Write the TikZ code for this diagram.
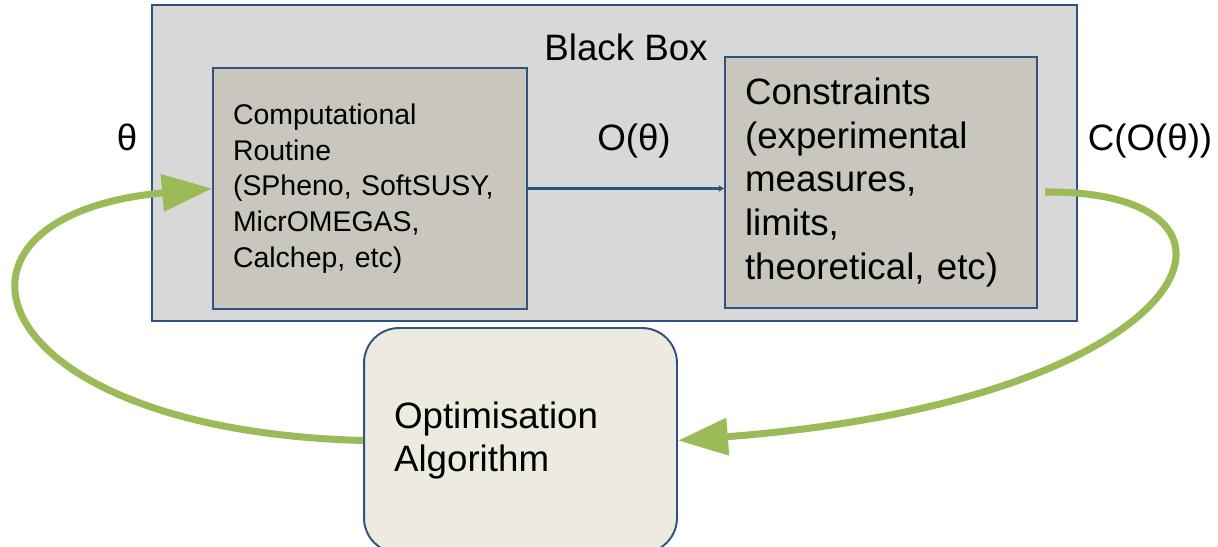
\documentclass[tikz,border=0pt]{standalone}
\usepackage{fontspec}
\setmainfont{Liberation Sans}
\usepackage{tikz}
\usetikzlibrary{arrows.meta, positioning}
\definecolor{myblue}{HTML}{2F5283}
\definecolor{mygreen}{HTML}{9BBB59}
\definecolor{boxgray}{HTML}{D8D8D8}
\definecolor{innergray}{HTML}{C9C6BE}
\definecolor{optfill}{HTML}{EDEBE0}
\newcommand{\bigtext}{\fontsize{20.9}{25}\selectfont}
\newcommand{\smalltext}{\fontsize{16.2}{20.4}\selectfont}
\tikzset{
	outerbox/.style={
			shape=rectangle,
			draw=myblue,
			line width=1.1pt,
			fill=boxgray,
			minimum width=18.5cm,
			minimum height=6.32cm,
			inner sep=0pt
		},
	innerbox/.style={
			shape=rectangle,
			draw=myblue,
			line width=1.1pt,
			fill=innergray,
			inner ysep=0pt,
			inner xsep=0.4cm,
			align=left
		},
	optbox/.style={
			shape=rectangle,
			draw=myblue,
			line width=1.1pt,
			fill=optfill,
			rounded corners=0.7cm,
			inner ysep=0pt,
			inner xsep=0.6cm,
			align=left
		},
	loopline/.style={
			draw=mygreen,
			line width=4pt,
			-{Triangle[length=1cm,width=0.72cm]}
		},
	thinarrow/.style={
			draw=myblue,
			line width=1.4pt,
			-{Triangle[length=3pt,width=3.5pt]}
		},
	labeltext/.style={font=\bigtext, inner sep=0pt}
}

\begin{document}
\begin{tikzpicture}[x=0.02cm, y=-0.02cm]

              \useasboundingbox (0,0) rectangle (1218,547);

              \node[outerbox] (bb) at (614.5,163) {};
              \node[labeltext] (bbl) at (626,47) {Black Box};

              \node[innerbox, text width=5.48cm, minimum height=4.82cm, font=\smalltext] (comp) at (370,188.5)
                {Computational\\Routine\\(SPheno, SoftSUSY,\\MicrOMEGAS,\\Calchep, etc)};
              \node[innerbox, text width=5.44cm, minimum height=5.02cm, font=\bigtext] (cons) at (881,182.5)
                {Constraints\\(experimental\\measures,\\limits,\\theoretical, etc)};
              \node[optbox, text width=5.06cm, minimum height=4.5cm, font=\bigtext] (opt) at (520.5,440.5)
                {Optimisation\\Algorithm};

              \node[labeltext] (l1) at (127,137) {θ};
              \node[labeltext] (l2) at (634,141) {O(θ)};
              \node[labeltext] (l3) at (1150,141) {C(O(θ))};

              \coordinate (cout) at (1045,192);

              \draw[thinarrow] (comp.east) -- (comp.east -| cons.west);
              \draw[loopline] (opt.west) .. controls (-25,430) and (-85,215) .. (comp.west);
              \draw[loopline] (cout) .. controls (1285,190) and (1205,400) .. (opt.east);

            \end{tikzpicture}
\end{document}
